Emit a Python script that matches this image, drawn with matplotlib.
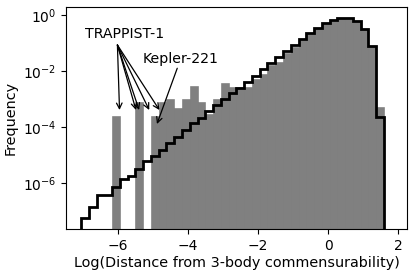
import numpy as np
import matplotlib
matplotlib.use("Agg")
import matplotlib.pyplot as plt

# Histogram bin edges (39 equal bins)
edge_lo, edge_hi, n_bins = -7.06, 1.6, 39

# log10 of frequency, model distribution (black step)
model_log = [-7.24, -6.85, -6.43, -6.43, -6.13, -5.87, -5.75, -5.48, -5.21, -5.04,
             -4.82, -4.55, -4.36, -4.11, -3.87, -3.67, -3.43, -3.21, -3.00, -2.78,
             -2.60, -2.40, -2.16, -1.94, -1.72, -1.50, -1.29, -1.07, -0.85, -0.65,
             -0.46, -0.30, -0.18, -0.10, -0.12, -0.21, -0.50, -1.10, -3.63]

# log10 of frequency, observed systems (grey bars); None = empty bin
obs_log = [None, None, None, None, -3.60, None, None, -3.12, None, -3.60,
           -3.12, -3.01, -3.31, -3.01, -2.52, -3.12, -3.54, -3.01, -2.44, -2.56,
           -2.56, -2.56, -2.30, -2.10, -1.79, -1.67, -1.37, -1.13, -0.88, -0.67,
           -0.48, -0.32, -0.20, -0.12, -0.14, -0.23, -0.52, -1.12, -3.30]

x_ticks = [-6, -4, -2, 0, 2]
y_ticks = [1e-6, 1e-4, 1e-2, 1e0]

edges = np.linspace(edge_lo, edge_hi, n_bins + 1)
width = edges[1] - edges[0]
model = 10.0 ** np.array(model_log)
obs = np.array([np.nan if v is None else 10.0 ** v for v in obs_log])

fig = plt.figure(figsize=(4.15, 2.76), dpi=100)
ax = fig.add_axes([0.159, 0.170, 0.822, 0.805])

ax.bar(edges[:-1], obs, width=width, align='edge', bottom=1e-12,
       color='#808080', edgecolor='#777777', linewidth=0.4)
ax.stairs(model, edges, baseline=1e-12, color='black', linewidth=2)

ax.set_yscale('log')
ax.set_xlim(-7.49, 2.26)
ax.set_ylim(10 ** -7.64, 10 ** 0.29)
ax.set_xticks(x_ticks)
ax.set_yticks(y_ticks)
ax.yaxis.set_minor_locator(matplotlib.ticker.NullLocator())
ax.tick_params(labelsize=10)

ax.set_xlabel('Log(Distance from 3-body commensurability)', fontsize=10.4, labelpad=2)
ax.set_ylabel('Frequency', fontsize=10.4)

# Annotations
ax.text(-5.83, 10 ** -0.81, 'TRAPPIST-1', fontsize=10.2, ha='center', va='baseline')
origin = (-6.02, 10 ** -1.07)
for tx in [-5.96, -5.49, -5.40, -5.11, -4.82]:
    ax.annotate('', xy=(tx, 10 ** -3.39), xytext=origin,
                arrowprops=dict(arrowstyle='->', color='black', lw=0.9,
                                shrinkA=0, shrinkB=0))
ax.text(-4.22, 10 ** -1.72, 'Kepler-221', fontsize=10.2, ha='center', va='baseline')
ax.annotate('', xy=(-4.89, 10 ** -3.89), xytext=(-4.31, 10 ** -1.90),
            arrowprops=dict(arrowstyle='->', color='black', lw=0.9,
                            shrinkA=0, shrinkB=0))

fig.savefig('out.png', dpi=100)
